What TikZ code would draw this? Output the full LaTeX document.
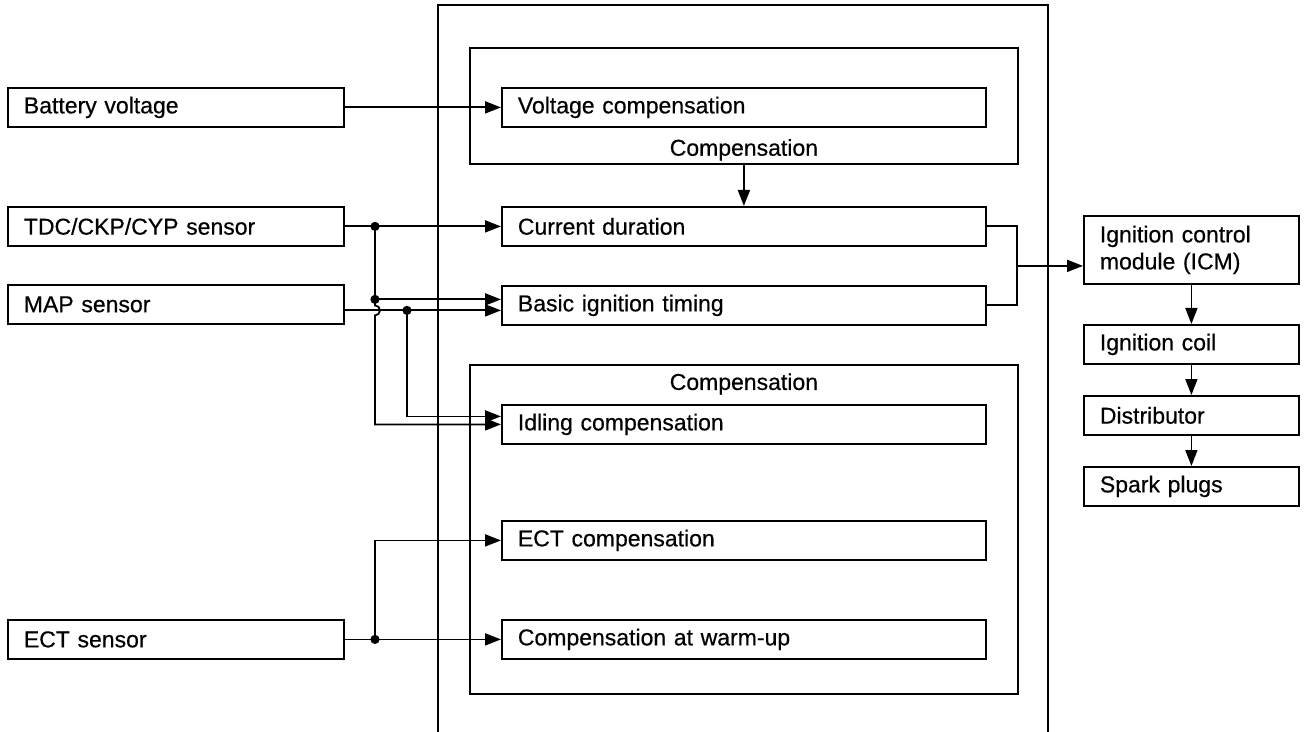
\documentclass[tikz,border=0pt]{standalone}
\usepackage{fontspec}
\setmainfont{Liberation Sans}
\newfontfamily\diagfont{Liberation Sans}[FakeBold=0.5]
\usetikzlibrary{arrows.meta}

\begin{document}
\begin{tikzpicture}[x=0.5pt, y=-0.5pt, line width=0.9pt,
    >={Triangle[length=8pt, width=6pt]},
    font=\diagfont\fontsize{11.5}{13.5}\selectfont,
    blk/.style={draw, anchor=north west, minimum height=19.5pt, inner xsep=8pt,
        inner ysep=0pt, text width=#1, align=left},
    frame/.style={draw, anchor=north west, inner sep=0pt, minimum width=274pt}]
    \useasboundingbox (0,0) rectangle (1304,732);

    % ECU frame
    \draw (438,732) -- (438,5) -- (1048,5) -- (1048,732);
    \node[frame, minimum height=58pt] (upcomp) at (469,47) {};
    \node[frame, minimum height=164.5pt] (lowcomp) at (469,364) {};
    \node (uplbl) at ([yshift=7.5pt]upcomp.south) {Compensation};
    \node (lowlbl) at ([yshift=-10pt]lowcomp.north) {Compensation};

    % Sensors
    \node[blk=152pt] (bat) at (7,87) {Battery voltage};
    \node[blk=152pt] (tdc) at (7,206) {TDC/CKP/CYP sensor};
    \node[blk=152pt] (map) at (7,284) {MAP sensor};
    \node[blk=152pt] (ect) at (7,619) {ECT sensor};

    % ECU blocks
    \node[blk=226pt] (volt) at (501,87) {Voltage compensation};
    \node[blk=226pt] (cur) at (501,206) {Current duration};
    \node[blk=226pt] (bit) at (501,285) {Basic ignition timing};
    \node[blk=226pt] (idle) at (501,404) {Idling compensation};
    \node[blk=226pt] (ectc) at (501,520) {ECT compensation};
    \node[blk=226pt] (warm) at (501,619) {Compensation at warm-up};

    % Output chain
    \node[blk=91.5pt, minimum height=34pt] (icm) at (1083,215) {Ignition control\\module (ICM)};
    \node[blk=91.5pt] (coil) at (1083,324) {Ignition coil};
    \node[blk=91.5pt] (dist) at (1083,395) {Distributor};
    \node[blk=91.5pt] (plug) at (1083,466) {Spark plugs};

    % Bus lines and junctions
    \coordinate (bus1) at (375,0);
    \coordinate (bus2) at (407,0);
    \coordinate (busr) at (1017,0);
    \coordinate (j1) at (tdc.east -| bus1);
    \coordinate (j3) at ([yshift=3pt]bit.west -| bus1);
    \coordinate (m1) at ([yshift=-3pt]map.east);
    \coordinate (j2) at (m1 -| bus2);
    \coordinate (j4) at (ect.east -| bus1);

    % Inputs
    \draw[->] (bat.east) -- (volt.west);
    \draw[->] (upcomp.south) -- (cur.north);
    \draw[->] (tdc.east) -- (cur.west);
    \draw[->] (j1) -- (j3) -- (j3 -| bit.west);
    \draw[->] (j3) -- ([yshift=2.5pt]m1 -| bus1)
        arc[start angle=90, end angle=-90, radius=2.5pt] |- (idle.west);
    \draw[->] (m1) -- (m1 -| bit.west);
    \draw[->] (j2) |- ([yshift=4pt]idle.west);
    \draw[->] (ect.east) -- (warm.west);
    \draw[->] (j4) |- (ectc.west);
    \foreach \j in {j1,j2,j3,j4}
        \fill (\j) circle (2.3pt);

    % Timing to ICM
    \draw (cur.east) -| (busr |- bit.east) -- (bit.east);
    \draw[->] ([yshift=-8pt]icm.west -| busr) -- ([yshift=-8pt]icm.west);
    \draw[->] (icm) -- (coil);
    \draw[->] (coil) -- (dist);
    \draw[->] (dist) -- (plug);
\end{tikzpicture}
\end{document}
